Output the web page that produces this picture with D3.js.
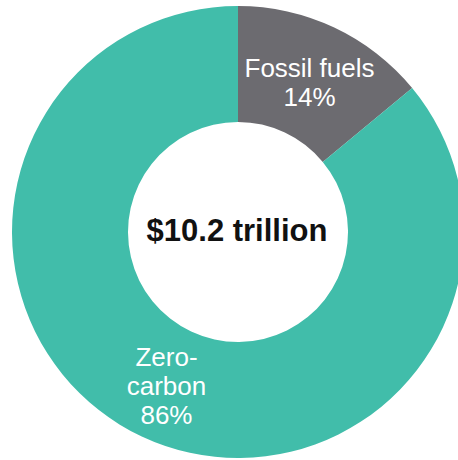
<!DOCTYPE html>
<html>
<head>
<meta charset="utf-8">
<script src="https://cdn.jsdelivr.net/npm/d3@7"></script>
<style>
  html, body { margin: 0; padding: 0; background: #fff; }
  svg { display: block; }
</style>
</head>
<body>
<svg id="chart" width="458" height="460"></svg>
<script>
// Investment split, share of total (%)
const categories = ["Fossil fuels", "Zero-carbon"];
const labelLines = [["Fossil fuels"], ["Zero-", "carbon"]];
const shares = [14, 86];
const colors = ["#6c6b70", "#41bdaa"];
const totalLabel = "$10.2 trillion";

const svg = d3.select("#chart");
const cx = 238, cy = 232;
const outerR = 226, innerR = 110;

const g = svg.append("g").attr("transform", `translate(${cx},${cy})`);

const pie = d3.pie().sort(null).value(d => d.value);
const arcs = pie(categories.map((c, i) => ({ name: c, value: shares[i], lines: labelLines[i], color: colors[i] })));

const arc = d3.arc().innerRadius(innerR).outerRadius(outerR);
const labelArc = d3.arc().innerRadius(innerR).outerRadius(outerR);

g.selectAll("path.slice")
  .data(arcs)
  .join("path")
  .attr("class", "slice")
  .attr("d", arc)
  .attr("fill", d => d.data.color);

const lh = 29;
const labels = g.selectAll("text.slice-label")
  .data(arcs)
  .join("text")
  .attr("class", "slice-label")
  .attr("text-anchor", "middle")
  .attr("fill", "#ffffff")
  .style("font-family", "'Liberation Sans', Arial, Helvetica, sans-serif")
  .style("font-size", "26px")
  .each(function (d) {
    const [x, y] = labelArc.centroid(d);
    const lines = d.data.lines.concat([`${d.data.value}%`]);
    const y0 = y - (lines.length - 1) * lh / 2 + 11;
    const t = d3.select(this);
    lines.forEach((ln, i) => {
      t.append("tspan").attr("x", x).attr("y", y0 + i * lh).text(ln);
    });
  });

g.append("text")
  .attr("text-anchor", "middle")
  .attr("x", -1)
  .attr("y", 9)
  .attr("fill", "#111")
  .style("font-family", "'Liberation Sans', Arial, Helvetica, sans-serif")
  .style("font-weight", "bold")
  .style("font-size", "31px")
  .text(totalLabel);
</script>
</body>
</html>
